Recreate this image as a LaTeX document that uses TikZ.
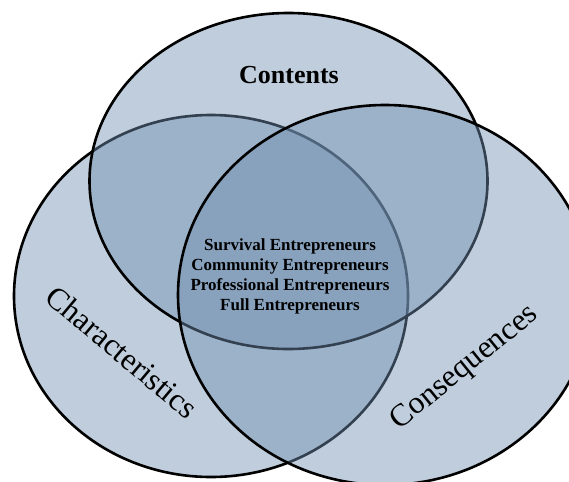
\documentclass[tikz,border=0pt]{standalone}
\usepackage{fontspec}
\setmainfont{Liberation Serif}
\definecolor{venn}{RGB}{113,144,177}
\tikzset{
  set/.style={fill=venn, fill opacity=0.45, draw=black, line width=2.6pt},
  setname/.style={font=\fontsize{31.5}{31.5}\selectfont},
  kinds/.style={align=center, font=\bfseries\fontsize{17}{20}\selectfont}
}
\begin{document}
\begin{tikzpicture}[x=1pt,y=-1pt]
\useasboundingbox (0,0) rectangle (569,481);
\begin{scope}
\clip (0,0) rectangle (569,481);
\draw[set] (211,296) ellipse [x radius=197pt, y radius=181pt];
\draw[set] (288.5,181) ellipse [x radius=199pt, y radius=168pt];
\draw[set] (385,295) ellipse [x radius=207pt, y radius=190pt];
\end{scope}
\node[setname, font=\bfseries\fontsize{26}{26}\selectfont] (contents) at (289,75) {Contents};
\node[setname, rotate=-40] (characteristics) at (122,352) {Characteristics};
\node[setname, rotate=39] (consequences) at (465,368) {Consequences};
\node[kinds] (types) at (290,276) {Survival Entrepreneurs\\Community Entrepreneurs\\Professional Entrepreneurs\\Full Entrepreneurs};
\end{tikzpicture}
\end{document}
